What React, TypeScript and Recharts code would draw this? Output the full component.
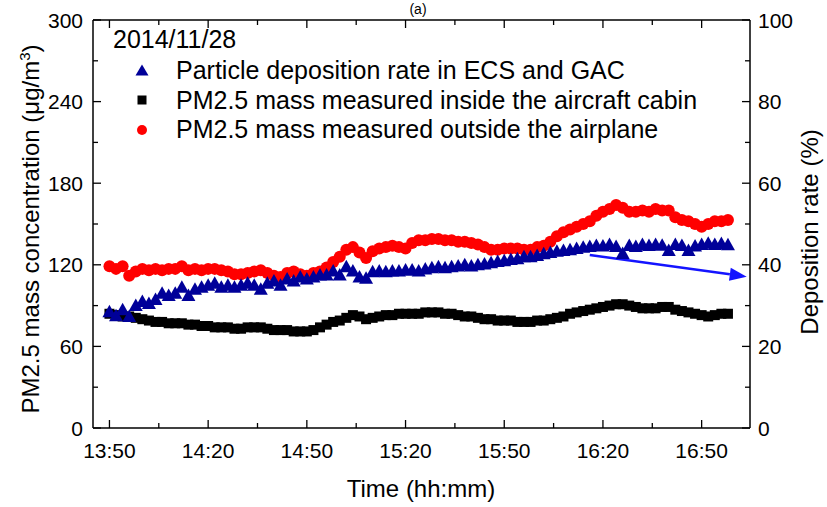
import React from 'react';
import { ScatterChart, Scatter, XAxis, YAxis, ReferenceLine } from 'recharts';

// minutes after 13:50
const minutes = [
  0, 2, 4, 6, 8, 10, 12, 14, 16, 18, 20, 22, 24, 26, 28, 30, 32, 34, 36, 38,
  40, 42, 44, 46, 48, 50, 52, 54, 56, 58, 60, 62, 64, 66, 68, 70, 72, 74, 76, 78,
  80, 82, 84, 86, 88, 90, 92, 94, 96, 98, 100, 102, 104, 106, 108, 110, 112, 114, 116, 118,
  120, 122, 124, 126, 128, 130, 132, 134, 136, 138, 140, 142, 144, 146, 148, 150, 152, 154, 156, 158,
  160, 162, 164, 166, 168, 170, 172, 174, 176, 178, 180, 182, 184, 186, 188,
];

// PM2.5 outside the airplane (ug/m3)
const outsidePM = [
  119, 117, 119, 112, 115, 117, 116, 117, 116, 117,
  117, 119, 116, 117, 116, 117, 117, 116, 115, 113,
  113, 114, 115, 116, 114, 112, 111, 114, 115, 113,
  112, 114, 115, 118, 122, 126, 131, 133, 129, 125,
  130, 132, 133, 134, 133, 132, 136, 138, 138, 139,
  139, 138, 138, 137, 137, 136, 135, 133, 131, 131,
  132, 132, 132, 131, 131, 133, 134, 137, 141, 144,
  146, 148, 150, 152, 156, 159, 161, 164, 162, 159,
  159, 160, 159, 161, 160, 160, 155, 153, 152, 150,
  148, 150, 152, 152, 153,
];

// PM2.5 inside the cabin (ug/m3)
const insidePM = [
  84, 83, 82, 82, 81, 80, 79, 78, 78, 77,
  77, 77, 76, 76, 75, 75, 74, 74, 74, 73,
  73, 74, 74, 74, 73, 72, 72, 72, 71, 71,
  71, 72, 74, 76, 78, 79, 81, 83, 82, 80,
  81, 82, 83, 83, 84, 84, 84, 84, 85, 85,
  85, 84, 84, 83, 82, 82, 81, 80, 80, 79,
  79, 79, 78, 78, 78, 79, 79, 80, 81, 82,
  84, 85, 86, 87, 88, 89, 90, 91, 91, 90,
  89, 88, 88, 88, 89, 89, 87, 86, 85, 84,
  83, 82, 83, 84, 84,
];

// deposition rate (%)
const depositionRate = [
  28.5, 27.5, 29, 27.3, 30, 31, 30.5, 31.5, 33, 32.5,
  33, 34.5, 32.5, 34, 34.5, 35, 35.5, 34.5, 35, 34.5,
  35, 35.5, 35, 34, 35.5, 36, 35, 36.5, 36, 37,
  36.5, 37, 37.5, 37.5, 38.5, 37.5, 39.5, 38.5, 37, 36.7,
  38.3, 38.5, 38.3, 38.5, 38.5, 38.7, 38.7, 38.5, 39, 39.3,
  39.5, 39.3, 39.5, 39.7, 40, 39.7, 40, 40.2, 40.5, 40.8,
  41, 41.3, 41.5, 42, 42, 42.3, 42.7, 43, 43.3, 43.5,
  43.7, 44, 44.3, 44.5, 44.7, 44.6, 45, 44.5, 42.8, 44.7,
  44.5, 45, 44.7, 45, 44.8, 43.5, 45, 44.7, 43.5, 44.6,
  45, 45.3, 45, 45.2, 44.9,
];

const xMajorTicks = [0, 30, 60, 90, 120, 150, 180];
const xTickLabels = ['13:50', '14:20', '14:50', '15:20', '15:50', '16:20', '16:50'];
const xMinorTicks = [15, 45, 75, 105, 135, 165];
const leftMajorTicks = [0, 60, 120, 180, 240, 300];
const leftMinorTicks = [30, 90, 150, 210, 270];
const rightMajorTicks = [0, 20, 40, 60, 80, 100];
const rightMinorTicks = [10, 30, 50, 70, 90];

const dateLabel = '2014/11/28';
const seriesNames = [
  'Particle deposition rate in ECS and GAC',
  'PM2.5 mass measured inside the aircraft cabin',
  'PM2.5 mass measured outside the airplane',
];

// arrow pointing to the right axis (minutes, %)
const arrowStart = { t: 146, rate: 42.4 };
const arrowEnd = { t: 193.7, rate: 37.1 };

const FONT = '"Liberation Sans", Arial, Helvetica, sans-serif';
const BLUE = '#000099';
const RED = '#ff0000';
const BLACK = '#000000';
const ARROW = '#1414ff';

const outsideData = minutes.map((t, i) => ({ t, v: outsidePM[i] }));
const insideData = minutes.map((t, i) => ({ t, v: insidePM[i] }));
const rateData = minutes.map((t, i) => ({ t, v: depositionRate[i] }));

const Triangle = ({ cx, cy }: any) =>
  cx == null ? null : (
    <polygon points={`${cx},${cy - 7} ${cx + 7},${cy + 5.5} ${cx - 7},${cy + 5.5}`} fill={BLUE} />
  );
const Square = ({ cx, cy }: any) =>
  cx == null ? null : <rect x={cx - 5} y={cy - 5} width={10} height={10} fill={BLACK} />;
const Dot = ({ cx, cy }: any) => (cx == null ? null : <circle cx={cx} cy={cy} r={6} fill={RED} />);

const tickText = { fontSize: 21, fontFamily: FONT, fill: '#000' };

const BottomTick = ({ x, y, payload }: any) => {
  const idx = xMajorTicks.indexOf(payload.value);
  return (
    <g>
      <line x1={x} x2={x} y1={y} y2={y - (idx >= 0 ? 8 : 5)} stroke="#000" strokeWidth={1.3} />
      {idx >= 0 && (
        <text x={x} y={y + 30} textAnchor="middle" {...tickText}>
          {xTickLabels[idx]}
        </text>
      )}
    </g>
  );
};

const TopTick = ({ x, y, payload }: any) => {
  const major = xMajorTicks.includes(payload.value);
  return <line x1={x} x2={x} y1={y} y2={y + (major ? 8 : 5)} stroke="#000" strokeWidth={1.3} />;
};

const LeftTick = ({ x, y, payload }: any) => {
  const major = leftMajorTicks.includes(payload.value);
  return (
    <g>
      <line x1={x} x2={x + (major ? 8 : 5)} y1={y} y2={y} stroke="#000" strokeWidth={1.3} />
      {major && (
        <text x={x - 10} y={y + 7.5} textAnchor="end" {...tickText}>
          {payload.value}
        </text>
      )}
    </g>
  );
};

const RightTick = ({ x, y, payload }: any) => {
  const major = rightMajorTicks.includes(payload.value);
  return (
    <g>
      <line x1={x} x2={x - (major ? 8 : 5)} y1={y} y2={y} stroke="#000" strokeWidth={1.3} />
      {major && (
        <text x={x + 8} y={y + 7.5} textAnchor="start" {...tickText}>
          {payload.value}
        </text>
      )}
    </g>
  );
};

const ArrowShape = ({ x1, y1, x2, y2 }: any) => {
  if (x1 == null) return null;
  const ang = Math.atan2(y2 - y1, x2 - x1);
  const len = 17;
  const half = 6.5;
  const bx = x2 - len * Math.cos(ang);
  const by = y2 - len * Math.sin(ang);
  const px = -Math.sin(ang) * half;
  const py = Math.cos(ang) * half;
  return (
    <g>
      <line x1={x1} y1={y1} x2={bx} y2={by} stroke={ARROW} strokeWidth={2.5} />
      <polygon points={`${x2},${y2} ${bx + px},${by + py} ${bx - px},${by - py}`} fill={ARROW} />
    </g>
  );
};

const axisLine = { stroke: '#000', strokeWidth: 1.5 };
const xDomain = [-5, 194.7];

export default function App() {
  const xTicks = [...xMajorTicks, ...xMinorTicks].sort((a, b) => a - b);
  const lTicks = [...leftMajorTicks, ...leftMinorTicks].sort((a, b) => a - b);
  const rTicks = [...rightMajorTicks, ...rightMinorTicks].sort((a, b) => a - b);
  const legendRows = [
    { name: seriesNames[0], icon: <polygon points="142,64.5 148.5,75.5 135.5,75.5" fill={BLUE} />, y: 79 },
    { name: seriesNames[1], icon: <rect x={137.5} y={95.5} width={9} height={9} fill={BLACK} />, y: 108.5 },
    { name: seriesNames[2], icon: <circle cx={142} cy={130} r={5} fill={RED} />, y: 138 },
  ];
  return (
    <div style={{ position: 'absolute', left: 0, top: 0, background: '#fff' }}>
      <ScatterChart width={827} height={507} margin={{ top: 10, right: 17, bottom: 39, left: 33 }}>
        <XAxis
          xAxisId={0}
          type="number"
          dataKey="t"
          domain={xDomain}
          allowDataOverflow
          ticks={xTicks}
          interval={0}
          height={40}
          tickSize={0}
          tickMargin={0}
          tickLine={false}
          axisLine={axisLine}
          tick={(p: any) => <BottomTick {...p} />}
        />
        <XAxis
          xAxisId="top"
          orientation="top"
          type="number"
          dataKey="t"
          domain={xDomain}
          allowDataOverflow
          ticks={xTicks}
          interval={0}
          height={10}
          tickSize={0}
          tickMargin={0}
          tickLine={false}
          axisLine={axisLine}
          tick={(p: any) => <TopTick {...p} />}
        />
        <YAxis
          yAxisId="left"
          orientation="left"
          type="number"
          dataKey="v"
          domain={[0, 300]}
          allowDataOverflow
          ticks={lTicks}
          interval={0}
          width={60}
          tickSize={0}
          tickMargin={0}
          tickLine={false}
          axisLine={axisLine}
          tick={(p: any) => <LeftTick {...p} />}
        />
        <YAxis
          yAxisId="right"
          orientation="right"
          type="number"
          dataKey="v"
          domain={[0, 100]}
          allowDataOverflow
          ticks={rTicks}
          interval={0}
          width={60}
          tickSize={0}
          tickMargin={0}
          tickLine={false}
          axisLine={axisLine}
          tick={(p: any) => <RightTick {...p} />}
        />
        <Scatter name={seriesNames[1]} data={insideData} yAxisId="left" shape={Square} isAnimationActive={false} />
        <Scatter name={seriesNames[2]} data={outsideData} yAxisId="left" shape={Dot} isAnimationActive={false} />
        <Scatter name={seriesNames[0]} data={rateData} yAxisId="right" shape={Triangle} isAnimationActive={false} />
        <ReferenceLine
          yAxisId="right"
          segment={[
            { x: arrowStart.t, y: arrowStart.rate },
            { x: arrowEnd.t, y: arrowEnd.rate },
          ]}
          shape={ArrowShape}
          ifOverflow="visible"
        />

        <text x={418} y={14} textAnchor="middle" fontSize={14} fontFamily={FONT} fill="#000">(a)</text>
        <text x={113} y={48} fontSize={25} fontFamily={FONT} fill="#000">{dateLabel}</text>
        {legendRows.map((r) => (
          <g key={r.name}>
            {r.icon}
            <text x={176} y={r.y} fontSize={25} fontFamily={FONT} fill="#000">{r.name}</text>
          </g>
        ))}
        <text x={421} y={497} textAnchor="middle" fontSize={24} fontFamily={FONT} fill="#000">Time (hh:mm)</text>
        <text transform="translate(39,229) rotate(-90)" textAnchor="middle" fontSize={24} fontFamily={FONT} fill="#000">
          PM2.5 mass concentration (μg/m
          <tspan dy={-9} fontSize={15}>3</tspan>
          <tspan dy={9}>)</tspan>
        </text>
        <text transform="translate(818,232) rotate(-90)" textAnchor="middle" fontSize={24} fontFamily={FONT} fill="#000">
          Deposition rate (%)
        </text>
      </ScatterChart>
    </div>
  );
}
